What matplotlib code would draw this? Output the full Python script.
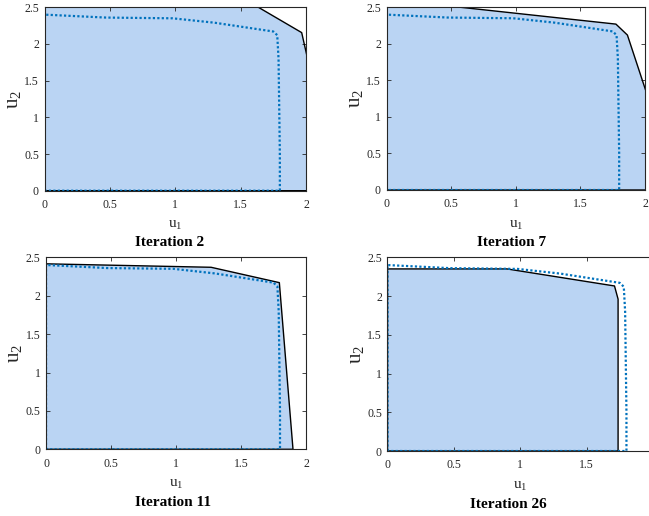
import matplotlib
matplotlib.use("Agg")
import matplotlib.pyplot as plt

plt.rcParams["font.family"] = ["Liberation Serif", "DejaVu Serif"]
plt.rcParams["mathtext.fontset"] = "custom"
plt.rcParams["mathtext.rm"] = "Liberation Serif"

# reference set (dotted), same in every panel
ref_u1 = [0, 0, 0.47, 0.98, 1.30, 1.75, 1.78, 1.79, 1.80, 1.80, 0]
ref_u2 = [0, 2.40, 2.36, 2.35, 2.29, 2.17, 2.12, 1.80, 0.50, 0, 0]

# approximated sets per iteration (filled polygons)
it2_u1 = [0, 0, 1.54, 1.967, 2.06, 2.06, 0]
it2_u2 = [0, 2.60, 2.60, 2.155, 1.42, 0, 0]
it7_u1 = [0, 0, 1.775, 1.864, 2.06, 2.06, 0]
it7_u2 = [0, 2.61, 2.27, 2.12, 1.07, 0, 0]
it11_u1 = [0, 0, 1.27, 1.795, 1.90, 0]
it11_u2 = [0, 2.415, 2.37, 2.17, 0, 0]
it26_u1 = [0, 0, 0.90, 1.71, 1.737, 1.737, 0]
it26_u2 = [0, 2.35, 2.35, 2.13, 1.96, 0, 0]

titles = ["Iteration 2", "Iteration 7", "Iteration 11", "Iteration 26"]
x_ticks = [0, 0.5, 1, 1.5, 2]
x_labels = ["0", "0.5", "1", "1.5", "2"]
y_ticks = [0, 0.5, 1, 1.5, 2, 2.5]
y_labels = ["0", "0.5", "1", "1.5", "2", "2.5"]

W, H = 649, 516
fig = plt.figure(figsize=(W / 100, H / 100), dpi=100)

# panel boxes in pixels: left, right, top, bottom
boxes = [(44.5, 306, 7.3, 190.7), (386.5, 645, 7.3, 190),
         (46, 306, 257.3, 449.3), (387.5, 653, 257.3, 451)]
title_pos = [(170, 242), (512, 242), (173, 502), (508, 505)]
polys = [(it2_u1, it2_u2), (it7_u1, it7_u2), (it11_u1, it11_u2), (it26_u1, it26_u2)]

fill_col = "#BAD4F3"
ref_col = "#0072BD"
axis_col = "#262626"

for (x0, x1, t, b), (u1, u2), title, (tx, ty) in zip(boxes, polys, titles, title_pos):
    ax = fig.add_axes([x0 / W, 1 - b / H, (x1 - x0) / W, (b - t) / H])
    ax.fill(u1, u2, color=fill_col, lw=0)
    ax.plot(u1, u2, color="black", lw=1.0)
    ax.plot(ref_u1, ref_u2, color=ref_col, lw=1.6, ls=(0, (1, 1)))
    ax.set_xlim(0, 2)
    ax.set_ylim(0, 2.5)
    ax.set_xticks(x_ticks, x_labels)
    ax.set_yticks(y_ticks, y_labels)
    ax.tick_params(direction="in", length=3, width=0.6, top=True, right=True,
                   labelsize=8.5, colors=axis_col)
    ax.tick_params(axis="x", pad=6)
    ax.tick_params(axis="y", pad=4)
    for s in ax.spines.values():
        s.set_color(axis_col)
        s.set_linewidth(0.8)
    ax.set_xlabel(r"$\mathregular{u_1}$", fontsize=11, color=axis_col, labelpad=6)
    ax.set_ylabel(r"$\mathregular{u_2}$", fontsize=15, color=axis_col, labelpad=1)
    fig.text(tx / W, 1 - ty / H, title, ha="center", va="center",
             fontsize=11, fontweight="bold")

fig.savefig("out.png", dpi=100)
